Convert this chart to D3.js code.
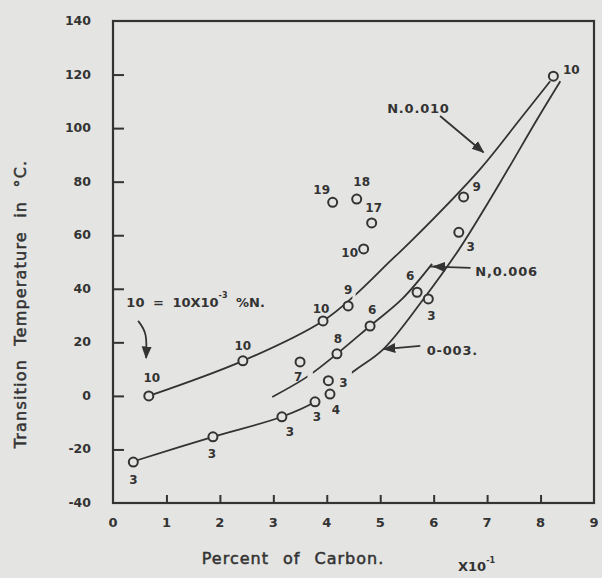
<!DOCTYPE html>
<html><head><meta charset="utf-8">
<script src="https://cdn.jsdelivr.net/npm/d3@7"></script>
<style>
html,body{margin:0;padding:0;background:#e4e4e2;}
svg{display:block;}
text{font-family:"DejaVu Sans",sans-serif;fill:#333333;}
</style></head><body>
<svg id="chart" width="602" height="578"></svg>
<script>
// Transition temperature against carbon content, labelled by nitrogen (x10^-3 %)
const xTicks = [0, 1, 2, 3, 4, 5, 6, 7, 8, 9];
const yTicks = [-40, -20, 0, 20, 40, 60, 80, 100, 120, 140];

// Measured points: carbon (x10^-1 %), transition temperature (°C), nitrogen tag
const pointCarbon = [0.67, 2.43, 3.93, 4.40, 6.56, 8.24, 3.50, 4.19, 4.81, 5.69, 0.38, 1.87, 3.16, 3.78, 4.03, 4.06, 5.90, 6.47, 4.11, 4.56, 4.84, 4.69];
const pointTemp   = [0, 13.1, 28, 33.6, 74.3, 119.4, 12.7, 15.7, 26.1, 38.7, -24.7, -15.3, -7.8, -2.2, 5.7, 0.7, 36.2, 61.1, 72.3, 73.5, 64.6, 54.9];
const pointN      = ["10", "10", "10", "9", "9", "10", "7", "8", "6", "6", "3", "3", "3", "3", "3", "4", "3", "3", "19", "18", "17", "10"];

// Fitted curves for N = 0.010, 0.006 and 0.003 %
const curve010Carbon = [0.67, 2.43, 3.93, 4.55, 5.19, 5.62, 6.87, 7.62, 8.18];
const curve010Temp   = [0, 13.1, 28, 38, 50.4, 58.6, 84.7, 103.4, 117.5];
const curve006Carbon = [2.98, 3.63, 4.19, 4.81, 5.41, 5.97];
const curve006Temp   = [-0.4, 7.1, 15.7, 26.1, 36.2, 49.3];
const curve003Carbon = [0.36, 1.87, 3.16, 3.78, 4.49, 5.06, 5.81, 6.48, 7.25, 7.94, 8.37];
const curve003Temp   = [-24.6, -15.3, -7.8, -2.2, 9, 17.5, 36.2, 54.9, 79.9, 103.4, 117.5];

// ---- layout ----
const ink = "#333333", paper = "#e4e4e2";
const svg = d3.select("#chart");
const x = d3.scaleLinear().domain([0, 9]).range([113, 594]);
const y = d3.scaleLinear().domain([-40, 140]).range([503, 21]);

// label offsets (px) for each point tag
const labelOffsets = [[3,-18],[0,-15],[-2,-12],[0,-16],[13,-10],[18,-7],[-2,15],[1,-15],[2,-16],[-7,-17],
  [0,17],[-1,17],[8,15],[2,15],[15,2],[6,15],[3,17],[12,14],[-11,-13],[5,-18],[2,-15],[-14,4]];

// curve gaps in carbon units (line broken around tags)
const curveGaps = { c010: [[4.48, 4.54]], c006: [[3.64, 3.74]], c003: [[3.84, 4.47]] };

const defs = svg.append("defs");
defs.append("marker").attr("id", "head").attr("viewBox", "0 0 10 10")
  .attr("refX", 9).attr("refY", 5).attr("markerWidth", 7).attr("markerHeight", 7)
  .attr("orient", "auto")
  .append("path").attr("d", "M0,1 L10,5 L0,9 Z").attr("fill", ink);

// frame
const g = svg.append("g");
g.append("rect").attr("x", x(0)).attr("y", y(140)).attr("width", x(9) - x(0)).attr("height", y(-40) - y(140))
  .attr("fill", "none").attr("stroke", ink).attr("stroke-width", 2.2);

// axes with inward ticks
const xAxis = d3.axisBottom(x).tickValues(xTicks.slice(1, -1)).tickSize(-8).tickFormat("");
g.append("g").attr("transform", `translate(0,${y(-40)})`).call(xAxis)
  .call(s => { s.select(".domain").remove(); s.selectAll("line").attr("stroke", ink).attr("stroke-width", 2); });
const yAxis = d3.axisLeft(y).tickValues(yTicks.slice(1, -1)).tickSize(-11).tickFormat("");
g.append("g").attr("transform", `translate(${x(0)},0)`).call(yAxis)
  .call(s => { s.select(".domain").remove(); s.selectAll("line").attr("stroke", ink).attr("stroke-width", 2); });

// tick labels
g.selectAll(".xl").data(xTicks).join("text").attr("class", "xl")
  .attr("x", d => x(d)).attr("y", 527).attr("text-anchor", "middle")
  .style("font-size", "13px").style("font-weight", "bold").text(d => d);
g.selectAll(".yl").data(yTicks).join("text").attr("class", "yl")
  .attr("x", 91).attr("y", d => y(d) + 4).attr("text-anchor", "end")
  .style("font-size", "12.5px").style("font-weight", "bold").text(d => d);

// axis titles
g.append("text").attr("x", 293).attr("y", 564).attr("text-anchor", "middle")
  .style("font-size", "16px").style("letter-spacing", "1px").style("word-spacing", "8px")
  .attr("stroke", ink).attr("stroke-width", 0.5)
  .text("Percent of Carbon.");
const xs = g.append("text").attr("x", 458).attr("y", 571).style("font-size", "13px").style("font-weight", "bold");
xs.append("tspan").text("X10");
xs.append("tspan").attr("dy", -8).style("font-size", "8px").text("-1");
g.append("text").attr("transform", "translate(26,304) rotate(-90)").attr("text-anchor", "middle")
  .style("font-size", "16px").style("letter-spacing", "1.2px").style("word-spacing", "7px")
  .attr("stroke", ink).attr("stroke-width", 0.5)
  .text("Transition Temperature in °C.");

// fitted curves, each clipped to leave gaps
const line = d3.line().x(d => x(d[0])).y(d => y(d[1])).curve(d3.curveCatmullRom.alpha(0.5));
function drawCurve(id, cx, cy) {
  const pts = cx.map((c, i) => [c, cy[i]]);
  const lo = cx[0] - 0.05, hi = cx[cx.length - 1] + 0.05;
  const cuts = [lo].concat(...curveGaps[id]).concat([hi]);
  const clip = defs.append("clipPath").attr("id", "clip-" + id);
  for (let i = 0; i < cuts.length; i += 2) {
    clip.append("rect").attr("x", x(cuts[i])).attr("y", 0)
      .attr("width", x(cuts[i + 1]) - x(cuts[i])).attr("height", 578);
  }
  g.append("path").datum(pts).attr("d", line).attr("fill", "none")
    .attr("stroke", ink).attr("stroke-width", 1.8).attr("clip-path", `url(#clip-${id})`);
}
drawCurve("c010", curve010Carbon, curve010Temp);
drawCurve("c006", curve006Carbon, curve006Temp);
drawCurve("c003", curve003Carbon, curve003Temp);

// points
const pts = pointCarbon.map((c, i) => ({ c, t: pointTemp[i], n: pointN[i], o: labelOffsets[i] }));
g.selectAll(".pt").data(pts).join("circle").attr("class", "pt")
  .attr("cx", d => x(d.c)).attr("cy", d => y(d.t)).attr("r", 4.5)
  .attr("fill", paper).attr("stroke", ink).attr("stroke-width", 2);
g.selectAll(".pl").data(pts).join("text").attr("class", "pl")
  .attr("x", d => x(d.c) + d.o[0]).attr("y", d => y(d.t) + d.o[1] + 4.5)
  .attr("text-anchor", "middle").style("font-size", "12px").style("font-weight", "bold").text(d => d.n);

// annotations (positions in data units)
function arrow(p0, p1) {
  g.append("line").attr("x1", x(p0[0])).attr("y1", y(p0[1])).attr("x2", x(p1[0])).attr("y2", y(p1[1]))
    .attr("stroke", ink).attr("stroke-width", 1.8).attr("marker-end", "url(#head)");
}
function note(p, txt) {
  g.append("text").attr("x", x(p[0])).attr("y", y(p[1]))
    .style("font-size", "13px").style("font-weight", "bold").style("letter-spacing", "0.8px").text(txt);
}
note([5.13, 105.8], "N.0.010");
arrow([6.12, 104.5], [6.93, 91]);
note([6.78, 44.6], "N,0.006");
g.append("line").attr("x1", x(5.93)).attr("y1", y(48.3)).attr("x2", x(6.05)).attr("y2", y(48.3))
  .attr("stroke", ink).attr("stroke-width", 1.8);
arrow([6.69, 47.8], [6.0, 48.3]);
note([5.87, 15.2], "0-003.");
arrow([5.75, 18.7], [5.07, 17.5]);

const key = g.append("text").attr("x", x(0.25)).attr("y", y(33.2))
  .style("font-size", "13px").style("font-weight", "bold").style("word-spacing", "4px");
key.append("tspan").text("10 = 10X10");
key.append("tspan").attr("dy", -9).style("font-size", "8px").text("-3");
key.append("tspan").attr("dy", 9).text(" %N.");
const k0 = [0.47, 28], k1 = [0.62, 14.2];
g.append("path")
  .attr("d", `M${x(k0[0])},${y(k0[1])} C${x(k0[0]) + 8},${y(k0[1]) + 10} ${x(k1[0]) + 1},${y(k1[1]) - 22} ${x(k1[0])},${y(k1[1])}`)
  .attr("fill", "none").attr("stroke", ink).attr("stroke-width", 1.8).attr("marker-end", "url(#head)");
</script>
</body></html>
